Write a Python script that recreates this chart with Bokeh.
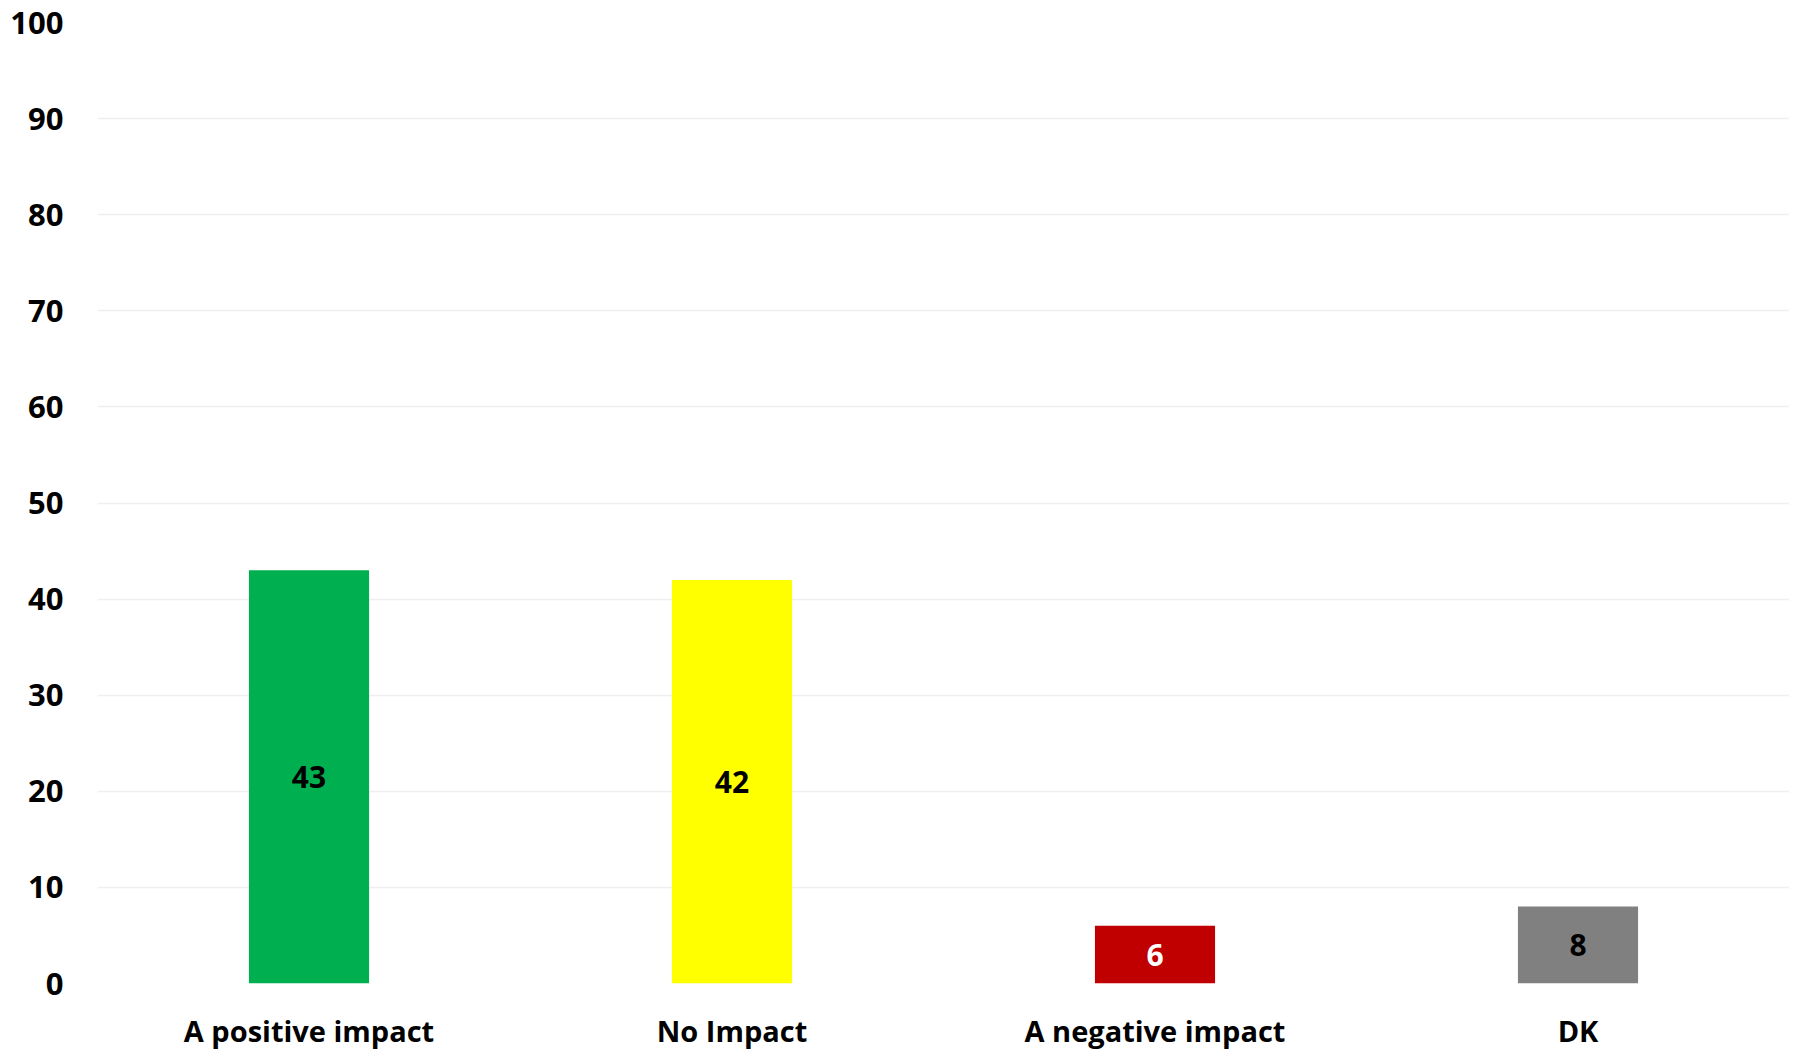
from bokeh.plotting import figure
from bokeh.models import ColumnDataSource, FactorRange, Range1d, SingleIntervalTicker, LabelSet
from bokeh.embed import file_html
from bokeh.resources import INLINE
from bokeh.core.properties import value

categories = ["A positive impact", "No Impact", "A negative impact", "DK"]
values = [43, 42, 6, 8]
bar_colors = ["#00B050", "#FFFF00", "#C00000", "#808080"]
label_colors = ["#000000", "#000000", "#FFFFFF", "#000000"]
label_text = [str(v) for v in values]

FONT = "Open Sans"

src = ColumnDataSource(dict(
    cat=categories,
    val=values,
    half=[v / 2 for v in values],
    color=bar_colors,
    lcolor=label_colors,
    txt=label_text,
))

p = figure(
    x_range=FactorRange(*categories, range_padding=0),
    y_range=Range1d(0, 100),
    width=1789, height=1052,
    output_backend="svg", toolbar_location=None,
    min_border_left=97, min_border_right=0,
    min_border_top=22, min_border_bottom=68,
)
p.outline_line_color = None
p.background_fill_color = "white"
p.border_fill_color = "white"

p.vbar(x="cat", top="val", width=0.284, color="color", line_color=None, source=src)

labels = LabelSet(x="cat", y="half", text="txt", source=src,
                  text_align="center", text_baseline="middle",
                  text_color="lcolor", text_font=value(FONT),
                  text_font_style="bold", text_font_size="30px")
p.add_layout(labels)

p.yaxis.ticker = SingleIntervalTicker(interval=10)
p.yaxis.axis_line_color = None
p.yaxis.major_tick_line_color = None
p.yaxis.minor_tick_line_color = None
p.yaxis.major_tick_out = 0
p.yaxis.major_label_standoff = 30
p.yaxis.major_label_text_font = FONT
p.yaxis.major_label_text_font_style = "bold"
p.yaxis.major_label_text_font_size = "31px"
p.yaxis.major_label_text_color = "#000000"

p.xaxis.axis_line_color = None
p.xaxis.major_tick_line_color = None
p.xaxis.minor_tick_line_color = None
p.xaxis.major_tick_out = 0
p.xaxis.major_label_standoff = 27
p.xaxis.major_label_text_font = FONT
p.xaxis.major_label_text_font_style = "bold"
p.xaxis.major_label_text_font_size = "29px"
p.xaxis.major_label_text_color = "#000000"

p.xgrid.grid_line_color = None
p.ygrid.grid_line_color = "#EFEFEF"
p.ygrid.grid_line_width = 1.5

open("out.html", "w").write(file_html(p, INLINE))
